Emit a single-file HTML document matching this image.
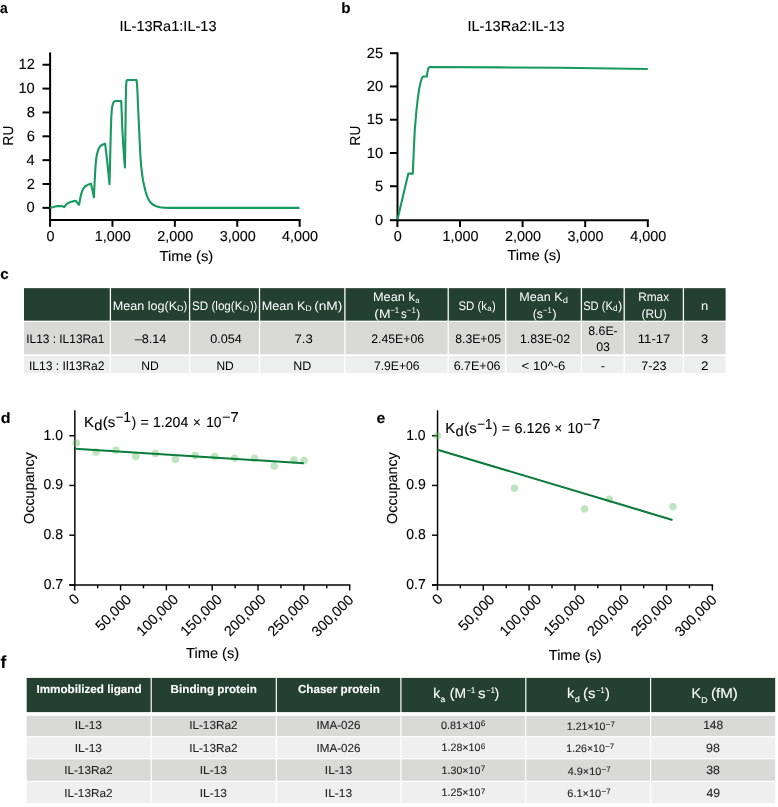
<!DOCTYPE html>
<html lang="en"><head><meta charset="utf-8"><title>Figure</title>
<style>
html,body{margin:0;padding:0;background:#fff}
svg{display:block}
text{stroke-width:.12px;font-family:"Liberation Sans",Arial,Helvetica,sans-serif;white-space:pre;text-rendering:geometricPrecision}
svg{will-change:transform}
.tc text{stroke-width:0}
</style></head><body>
<svg width="778" height="807" viewBox="0 0 778 807">
<rect width="778" height="807" fill="#fff"/>
<text x="-0.08" y="13.1" font-size="15" font-weight="700" fill="#000" textLength="7.69" lengthAdjust="spacingAndGlyphs" stroke="#000">a</text>
<text x="341.31" y="12.9" font-size="15" font-weight="700" fill="#000" textLength="9.31" lengthAdjust="spacingAndGlyphs" stroke="#000">b</text>
<text x="0.23" y="279.3" font-size="15" font-weight="700" fill="#000" textLength="8.4" lengthAdjust="spacingAndGlyphs" stroke="#000">c</text>
<text x="0.66" y="422.9" font-size="15" font-weight="700" fill="#000" textLength="9.8" lengthAdjust="spacingAndGlyphs" stroke="#000">d</text>
<text x="376.4" y="422.9" font-size="15" font-weight="700" fill="#000" textLength="8.83" lengthAdjust="spacingAndGlyphs" stroke="#000">e</text>
<text x="0.6" y="667.8" font-size="17.5" font-weight="700" fill="#000" textLength="5.77" lengthAdjust="spacingAndGlyphs" stroke="#000">f</text>
<line x1="50.1" y1="52.4" x2="50.1" y2="220.9" stroke="#000" stroke-width="2" stroke-linecap="butt"/>
<line x1="49.1" y1="219.9" x2="300.6" y2="219.9" stroke="#000" stroke-width="2" stroke-linecap="butt"/>
<line x1="42.5" y1="207.85" x2="50.1" y2="207.85" stroke="#000" stroke-width="2" stroke-linecap="butt"/>
<text x="26.59" y="212.45" font-size="14.7" fill="#000" textLength="8.18" lengthAdjust="spacingAndGlyphs" stroke="#000">0</text>
<line x1="42.5" y1="184" x2="50.1" y2="184" stroke="#000" stroke-width="2" stroke-linecap="butt"/>
<text x="26.74" y="188.6" font-size="14.7" fill="#000" textLength="8.18" lengthAdjust="spacingAndGlyphs" stroke="#000">2</text>
<line x1="42.5" y1="160.15" x2="50.1" y2="160.15" stroke="#000" stroke-width="2" stroke-linecap="butt"/>
<text x="26.45" y="164.75" font-size="14.7" fill="#000" textLength="8.18" lengthAdjust="spacingAndGlyphs" stroke="#000">4</text>
<line x1="42.5" y1="136.3" x2="50.1" y2="136.3" stroke="#000" stroke-width="2" stroke-linecap="butt"/>
<text x="26.67" y="140.9" font-size="14.7" fill="#000" textLength="8.18" lengthAdjust="spacingAndGlyphs" stroke="#000">6</text>
<line x1="42.5" y1="112.45" x2="50.1" y2="112.45" stroke="#000" stroke-width="2" stroke-linecap="butt"/>
<text x="26.67" y="117.05" font-size="14.7" fill="#000" textLength="8.18" lengthAdjust="spacingAndGlyphs" stroke="#000">8</text>
<line x1="42.5" y1="88.6" x2="50.1" y2="88.6" stroke="#000" stroke-width="2" stroke-linecap="butt"/>
<text x="18.43" y="93.2" font-size="14.7" fill="#000" textLength="16.35" lengthAdjust="spacingAndGlyphs" stroke="#000">10</text>
<line x1="42.5" y1="64.75" x2="50.1" y2="64.75" stroke="#000" stroke-width="2" stroke-linecap="butt"/>
<text x="18.58" y="69.35" font-size="14.7" fill="#000" textLength="16.35" lengthAdjust="spacingAndGlyphs" stroke="#000">12</text>
<line x1="50.05" y1="219.9" x2="50.05" y2="226.8" stroke="#000" stroke-width="2" stroke-linecap="butt"/>
<text x="46.45" y="240.85" font-size="14.4" stroke="#000">0</text>
<line x1="112.45" y1="219.9" x2="112.45" y2="226.8" stroke="#000" stroke-width="2" stroke-linecap="butt"/>
<text x="94.83" y="240.85" font-size="14.4" stroke="#000">1,000</text>
<line x1="174.85" y1="219.9" x2="174.85" y2="226.8" stroke="#000" stroke-width="2" stroke-linecap="butt"/>
<text x="157.23" y="240.85" font-size="14.4" stroke="#000">2,000</text>
<line x1="237.25" y1="219.9" x2="237.25" y2="226.8" stroke="#000" stroke-width="2" stroke-linecap="butt"/>
<text x="219.63" y="240.85" font-size="14.4" stroke="#000">3,000</text>
<line x1="299.65" y1="219.9" x2="299.65" y2="226.8" stroke="#000" stroke-width="2" stroke-linecap="butt"/>
<text x="282.03" y="240.85" font-size="14.4" stroke="#000">4,000</text>
<text x="119.45" y="31.3" font-size="14.4" fill="#000" textLength="97.08" lengthAdjust="spacingAndGlyphs" stroke="#000">IL-13Ra1:IL-13</text>
<text transform="translate(13.4 145.4) rotate(-90)" font-size="14.4" textLength="19.6" lengthAdjust="spacingAndGlyphs" stroke="#000">RU</text>
<text x="159.47" y="260.7" font-size="14.4" fill="#000" textLength="53.85" lengthAdjust="spacingAndGlyphs" stroke="#000">Time (s)</text>
<polyline fill="none" stroke="#17995f" stroke-width="2.1" stroke-linejoin="round" stroke-linecap="butt" points="50.1,207.85 52.5,207.2 55.3,206.5 58,206.1 60.4,205.95 62.3,206.3 64.2,207.1 65.2,205.8 66.5,204.2 68.2,203 70.2,202.1 72.8,201.4 75.6,200.8 77.3,202.8 79.05,204.8 79.7,201.5 80.4,197.5 81.3,193.8 82.3,190.7 83.6,188.3 85,186.5 87.8,184.8 91,183.7 92.5,190.5 93.9,197.2 94.4,187 94.9,177 95.5,166.5 96.2,158.6 97.1,153.6 98.1,150.2 99.3,147.6 100.8,145.7 102.8,144.5 105.1,143.7 106.3,153.5 107.4,163.2 108.5,174 109.45,184.2 109.9,170 110.3,152 110.8,132 111.3,117 111.9,108.8 112.7,104.4 113.6,102.1 114.8,101.2 116,101.05 121.2,101.05 121.7,112 122.3,128 123.1,143 124,156 124.9,167.4 125.2,150 125.5,125 125.8,100 126.1,86 126.5,81.2 127.1,80 136.5,80 137,84 137.5,93 138.2,109.7 139,127 139.6,140 140.4,156 141.2,166.5 142.2,174.8 143,180.2 144.4,186.8 145.6,191.6 146.9,195.8 148.5,199.4 150.2,202 152.1,204 154.5,205.5 157,206.5 160,207.2 164,207.6 170,207.85 299.6,207.85"/>
<line x1="397.5" y1="52.3" x2="397.5" y2="221.2" stroke="#000" stroke-width="2" stroke-linecap="butt"/>
<line x1="396.5" y1="220.2" x2="648.8" y2="220.2" stroke="#000" stroke-width="2" stroke-linecap="butt"/>
<line x1="389.9" y1="220.2" x2="397.5" y2="220.2" stroke="#000" stroke-width="2" stroke-linecap="butt"/>
<text x="374.99" y="224.8" font-size="14.7" fill="#000" textLength="8.18" lengthAdjust="spacingAndGlyphs" stroke="#000">0</text>
<line x1="389.9" y1="186.24" x2="397.5" y2="186.24" stroke="#000" stroke-width="2" stroke-linecap="butt"/>
<text x="375.03" y="190.84" font-size="14.7" fill="#000" textLength="8.18" lengthAdjust="spacingAndGlyphs" stroke="#000">5</text>
<line x1="389.9" y1="152.98" x2="397.5" y2="152.98" stroke="#000" stroke-width="2" stroke-linecap="butt"/>
<text x="366.83" y="157.58" font-size="14.7" fill="#000" textLength="16.35" lengthAdjust="spacingAndGlyphs" stroke="#000">10</text>
<line x1="389.9" y1="119.72" x2="397.5" y2="119.72" stroke="#000" stroke-width="2" stroke-linecap="butt"/>
<text x="366.87" y="124.32" font-size="14.7" fill="#000" textLength="16.35" lengthAdjust="spacingAndGlyphs" stroke="#000">15</text>
<line x1="389.9" y1="86.46" x2="397.5" y2="86.46" stroke="#000" stroke-width="2" stroke-linecap="butt"/>
<text x="366.83" y="91.06" font-size="14.7" fill="#000" textLength="16.35" lengthAdjust="spacingAndGlyphs" stroke="#000">20</text>
<line x1="389.9" y1="53.2" x2="397.5" y2="53.2" stroke="#000" stroke-width="2" stroke-linecap="butt"/>
<text x="366.87" y="57.8" font-size="14.7" fill="#000" textLength="16.35" lengthAdjust="spacingAndGlyphs" stroke="#000">25</text>
<line x1="397.4" y1="220.2" x2="397.4" y2="227.1" stroke="#000" stroke-width="2" stroke-linecap="butt"/>
<text x="393.8" y="240.85" font-size="14.4" stroke="#000">0</text>
<line x1="460" y1="220.2" x2="460" y2="227.1" stroke="#000" stroke-width="2" stroke-linecap="butt"/>
<text x="442.38" y="240.85" font-size="14.4" stroke="#000">1,000</text>
<line x1="522.6" y1="220.2" x2="522.6" y2="227.1" stroke="#000" stroke-width="2" stroke-linecap="butt"/>
<text x="504.98" y="240.85" font-size="14.4" stroke="#000">2,000</text>
<line x1="585.2" y1="220.2" x2="585.2" y2="227.1" stroke="#000" stroke-width="2" stroke-linecap="butt"/>
<text x="567.58" y="240.85" font-size="14.4" stroke="#000">3,000</text>
<line x1="647.8" y1="220.2" x2="647.8" y2="227.1" stroke="#000" stroke-width="2" stroke-linecap="butt"/>
<text x="630.18" y="240.85" font-size="14.4" stroke="#000">4,000</text>
<text x="467.45" y="31.3" font-size="14.4" fill="#000" textLength="97.18" lengthAdjust="spacingAndGlyphs" stroke="#000">IL-13Ra2:IL-13</text>
<text transform="translate(360.3 145.4) rotate(-90)" font-size="14.4" textLength="19.6" lengthAdjust="spacingAndGlyphs" stroke="#000">RU</text>
<text x="507.27" y="260.4" font-size="14.4" fill="#000" textLength="53.74" lengthAdjust="spacingAndGlyphs" stroke="#000">Time (s)</text>
<polyline fill="none" stroke="#17995f" stroke-width="2.1" stroke-linejoin="round" points="397.5,219.5 408.3,173.6 412.8,173.6 413.6,155 414.7,131 416.3,112 417.8,98.5 419.3,88.2 420.7,82 421.9,78.3 423,76.5 426.8,76.5 427.4,72.5 428.2,68.8 429.1,67.3 430.2,67 500,67.4 560,67.8 647.8,69"/>
<g class="tc" transform="translate(0.3 0.35)">
<rect x="23.7" y="287.8" width="85.75" height="32.5" fill="#234030"/>
<rect x="110.75" y="287.8" width="77.9" height="32.5" fill="#234030"/>
<rect x="189.95" y="287.8" width="68.6" height="32.5" fill="#234030"/>
<rect x="259.85" y="287.8" width="84.1" height="32.5" fill="#234030"/>
<rect x="345.25" y="287.8" width="102" height="32.5" fill="#234030"/>
<rect x="448.55" y="287.8" width="56.2" height="32.5" fill="#234030"/>
<rect x="506.05" y="287.8" width="74.4" height="32.5" fill="#234030"/>
<rect x="581.75" y="287.8" width="41.5" height="32.5" fill="#234030"/>
<rect x="624.55" y="287.8" width="57.9" height="32.5" fill="#234030"/>
<rect x="683.75" y="287.8" width="41.55" height="32.5" fill="#234030"/>
<rect x="23.7" y="321.6" width="85.75" height="32.3" fill="#d9d9d8"/>
<rect x="110.75" y="321.6" width="77.9" height="32.3" fill="#d9d9d8"/>
<rect x="189.95" y="321.6" width="68.6" height="32.3" fill="#d9d9d8"/>
<rect x="259.85" y="321.6" width="84.1" height="32.3" fill="#d9d9d8"/>
<rect x="345.25" y="321.6" width="102" height="32.3" fill="#d9d9d8"/>
<rect x="448.55" y="321.6" width="56.2" height="32.3" fill="#d9d9d8"/>
<rect x="506.05" y="321.6" width="74.4" height="32.3" fill="#d9d9d8"/>
<rect x="581.75" y="321.6" width="41.5" height="32.3" fill="#d9d9d8"/>
<rect x="624.55" y="321.6" width="57.9" height="32.3" fill="#d9d9d8"/>
<rect x="683.75" y="321.6" width="41.55" height="32.3" fill="#d9d9d8"/>
<rect x="23.7" y="355.6" width="85.75" height="17.2" fill="#edefee"/>
<rect x="110.75" y="355.6" width="77.9" height="17.2" fill="#edefee"/>
<rect x="189.95" y="355.6" width="68.6" height="17.2" fill="#edefee"/>
<rect x="259.85" y="355.6" width="84.1" height="17.2" fill="#edefee"/>
<rect x="345.25" y="355.6" width="102" height="17.2" fill="#edefee"/>
<rect x="448.55" y="355.6" width="56.2" height="17.2" fill="#edefee"/>
<rect x="506.05" y="355.6" width="74.4" height="17.2" fill="#edefee"/>
<rect x="581.75" y="355.6" width="41.5" height="17.2" fill="#edefee"/>
<rect x="624.55" y="355.6" width="57.9" height="17.2" fill="#edefee"/>
<rect x="683.75" y="355.6" width="41.55" height="17.2" fill="#edefee"/>
<text x="112.36" y="309.3" font-size="12.4" fill="#fff" textLength="64.38" lengthAdjust="spacingAndGlyphs" stroke="#fff">Mean log(K</text>
<text x="176.66" y="311" font-size="8" fill="#fff" textLength="6.47" lengthAdjust="spacingAndGlyphs" stroke="#fff">D</text>
<text x="183.24" y="309.3" font-size="12.4" fill="#fff" textLength="3.72" lengthAdjust="spacingAndGlyphs" stroke="#fff">)</text>
<text x="191.78" y="309.3" font-size="12.4" fill="#fff" textLength="50.36" lengthAdjust="spacingAndGlyphs" stroke="#fff">SD (log(K</text>
<text x="242.51" y="311" font-size="8" fill="#fff" textLength="6.47" lengthAdjust="spacingAndGlyphs" stroke="#fff">D</text>
<text x="249.58" y="309.3" font-size="12.4" fill="#fff" textLength="7.43" lengthAdjust="spacingAndGlyphs" stroke="#fff">))</text>
<text x="261.56" y="309.3" font-size="12.4" fill="#fff" textLength="43.48" lengthAdjust="spacingAndGlyphs" stroke="#fff">Mean K</text>
<text x="304.86" y="311" font-size="8" fill="#fff" textLength="6.47" lengthAdjust="spacingAndGlyphs" stroke="#fff">D</text>
<text x="313.84" y="309.3" font-size="12.4" fill="#fff" textLength="28.29" lengthAdjust="spacingAndGlyphs" stroke="#fff">(nM)</text>
<text x="372.65" y="300.9" font-size="12.4" fill="#fff" textLength="41.84" lengthAdjust="spacingAndGlyphs" stroke="#fff">Mean k</text>
<text x="414.98" y="302.6" font-size="8" fill="#fff" textLength="4.21" lengthAdjust="spacingAndGlyphs" stroke="#fff">a</text>
<text x="374.03" y="317.8" font-size="12.4" fill="#fff" textLength="16.19" lengthAdjust="spacingAndGlyphs" stroke="#fff">(M</text>
<text x="389.92" y="312.3" font-size="8.4" fill="#fff" textLength="9.06" lengthAdjust="spacingAndGlyphs" stroke="#fff">−1</text>
<text x="400.79" y="317.8" font-size="12.4" fill="#fff" textLength="5.71" lengthAdjust="spacingAndGlyphs" stroke="#fff">s</text>
<text x="406.52" y="312.3" font-size="8.4" fill="#fff" textLength="9.06" lengthAdjust="spacingAndGlyphs" stroke="#fff">−1</text>
<text x="416.01" y="317.8" font-size="12.4" fill="#fff" textLength="3.9" lengthAdjust="spacingAndGlyphs" stroke="#fff">)</text>
<text x="458.18" y="309.3" font-size="12.4" fill="#fff" textLength="28.62" lengthAdjust="spacingAndGlyphs" stroke="#fff">SD (k</text>
<text x="486.96" y="310.9" font-size="8" fill="#fff" textLength="4.43" lengthAdjust="spacingAndGlyphs" stroke="#fff">a</text>
<text x="491.64" y="309.3" font-size="12.4" fill="#fff" textLength="3.72" lengthAdjust="spacingAndGlyphs" stroke="#fff">)</text>
<text x="518.96" y="300.9" font-size="12.4" fill="#fff" textLength="43.28" lengthAdjust="spacingAndGlyphs" stroke="#fff">Mean K</text>
<text x="562.5" y="302.6" font-size="8.6" fill="#fff" textLength="5.19" lengthAdjust="spacingAndGlyphs" stroke="#fff">d</text>
<text x="532.33" y="317.8" font-size="12.4" fill="#fff" textLength="10.2" lengthAdjust="spacingAndGlyphs" stroke="#fff">(s</text>
<text x="542.74" y="312.6" font-size="8.4" fill="#fff" textLength="8.62" lengthAdjust="spacingAndGlyphs" stroke="#fff">−1</text>
<text x="551.9" y="317.8" font-size="12.4" fill="#fff" textLength="4.4" lengthAdjust="spacingAndGlyphs" stroke="#fff">)</text>
<text x="582.83" y="309.3" font-size="12.4" fill="#fff" textLength="29.76" lengthAdjust="spacingAndGlyphs" stroke="#fff">SD (K</text>
<text x="612.65" y="310.8" font-size="8.6" fill="#fff" textLength="4.57" lengthAdjust="spacingAndGlyphs" stroke="#fff">d</text>
<text x="617.6" y="309.3" font-size="12.4" fill="#fff" textLength="4.27" lengthAdjust="spacingAndGlyphs" stroke="#fff">)</text>
<text x="637.92" y="300.9" font-size="12.4" fill="#fff" textLength="30.88" lengthAdjust="spacingAndGlyphs" stroke="#fff">Rmax</text>
<text x="641.26" y="317.8" font-size="12.4" fill="#fff" textLength="25.06" lengthAdjust="spacingAndGlyphs" stroke="#fff">(RU)</text>
<text x="700.75" y="309.3" font-size="12.4" fill="#fff" textLength="7.29" lengthAdjust="spacingAndGlyphs" stroke="#fff">n</text>
<text x="25.9" y="343" font-size="12.4" fill="#000" textLength="78.18" lengthAdjust="spacingAndGlyphs" stroke="#000">IL13 : IL13Ra1</text>
<text x="28.58" y="369.4" font-size="12.4" fill="#000" textLength="75.52" lengthAdjust="spacingAndGlyphs" stroke="#000">IL13 : Il13Ra2</text>
<text x="134.4" y="343" font-size="12.4" fill="#000" textLength="31.65" lengthAdjust="spacingAndGlyphs" stroke="#000">–8.14</text>
<text x="141" y="369.4" font-size="12.4" fill="#000" textLength="17.57" lengthAdjust="spacingAndGlyphs" stroke="#000">ND</text>
<text x="209.83" y="343" font-size="12.4" fill="#000" textLength="31.62" lengthAdjust="spacingAndGlyphs" stroke="#000">0.054</text>
<text x="216.11" y="369.4" font-size="12.4" fill="#000" textLength="17.35" lengthAdjust="spacingAndGlyphs" stroke="#000">ND</text>
<text x="294.14" y="343" font-size="12.4" fill="#000" textLength="18.32" lengthAdjust="spacingAndGlyphs" stroke="#000">7.3</text>
<text x="292.97" y="369.4" font-size="12.4" fill="#000" textLength="18.01" lengthAdjust="spacingAndGlyphs" stroke="#000">ND</text>
<text x="370.89" y="343" font-size="12.4" fill="#000" textLength="52.96" lengthAdjust="spacingAndGlyphs" stroke="#000">2.45E+06</text>
<text x="373.59" y="369.4" font-size="12.4" fill="#000" textLength="45.74" lengthAdjust="spacingAndGlyphs" stroke="#000">7.9E+06</text>
<text x="454.88" y="343" font-size="12.4" fill="#000" textLength="45.92" lengthAdjust="spacingAndGlyphs" stroke="#000">8.3E+05</text>
<text x="453.38" y="369.4" font-size="12.4" fill="#000" textLength="46.87" lengthAdjust="spacingAndGlyphs" stroke="#000">6.7E+06</text>
<text x="519.67" y="343" font-size="12.4" fill="#000" textLength="50.13" lengthAdjust="spacingAndGlyphs" stroke="#000">1.83E-02</text>
<text x="521.28" y="369.4" font-size="12.4" fill="#000" textLength="43.78" lengthAdjust="spacingAndGlyphs" stroke="#000">&lt; 10^-6</text>
<text x="587.98" y="334.5" font-size="12.4" fill="#000" textLength="29.45" lengthAdjust="spacingAndGlyphs" stroke="#000">8.6E-</text>
<text x="595.83" y="351" font-size="12.4" fill="#000" textLength="13.82" lengthAdjust="spacingAndGlyphs" stroke="#000">03</text>
<text x="600.33" y="369.4" font-size="12.4" fill="#000" textLength="4.21" lengthAdjust="spacingAndGlyphs" stroke="#000">-</text>
<text x="637.52" y="343" font-size="12.4" fill="#000" textLength="32.52" lengthAdjust="spacingAndGlyphs" stroke="#000">11-17</text>
<text x="640.97" y="369.4" font-size="12.4" fill="#000" textLength="25.29" lengthAdjust="spacingAndGlyphs" stroke="#000">7-23</text>
<text x="700.82" y="343" font-size="12.4" fill="#000" textLength="7.14" lengthAdjust="spacingAndGlyphs" stroke="#000">3</text>
<text x="700.63" y="369.4" font-size="12.4" fill="#000" textLength="7.42" lengthAdjust="spacingAndGlyphs" stroke="#000">2</text>
</g>
<line x1="74.85" y1="410.3" x2="74.85" y2="585.73" stroke="#000" stroke-width="1.45" stroke-linecap="butt"/>
<line x1="69.3" y1="585" x2="350.4" y2="585" stroke="#000" stroke-width="1.45" stroke-linecap="butt"/>
<line x1="69.3" y1="435.7" x2="74.85" y2="435.7" stroke="#000" stroke-width="1.45" stroke-linecap="butt"/>
<text x="43.51" y="439.5" font-size="14.4" fill="#000" textLength="19.42" lengthAdjust="spacingAndGlyphs" stroke="#000">1.0</text>
<line x1="69.3" y1="485.45" x2="74.85" y2="485.45" stroke="#000" stroke-width="1.45" stroke-linecap="butt"/>
<text x="43.61" y="489.25" font-size="14.4" fill="#000" textLength="19.42" lengthAdjust="spacingAndGlyphs" stroke="#000">0.9</text>
<line x1="69.3" y1="535.2" x2="74.85" y2="535.2" stroke="#000" stroke-width="1.45" stroke-linecap="butt"/>
<text x="43.58" y="539" font-size="14.4" fill="#000" textLength="19.42" lengthAdjust="spacingAndGlyphs" stroke="#000">0.8</text>
<line x1="69.3" y1="585" x2="74.85" y2="585" stroke="#000" stroke-width="1.45" stroke-linecap="butt"/>
<text x="43.65" y="588.8" font-size="14.4" fill="#000" textLength="19.42" lengthAdjust="spacingAndGlyphs" stroke="#000">0.7</text>
<line x1="74.75" y1="585" x2="74.75" y2="590.4" stroke="#000" stroke-width="1.45" stroke-linecap="butt"/>
<line x1="97.66" y1="585" x2="97.66" y2="588.3" stroke="#000" stroke-width="1.45" stroke-linecap="butt"/>
<line x1="120.57" y1="585" x2="120.57" y2="590.4" stroke="#000" stroke-width="1.45" stroke-linecap="butt"/>
<line x1="143.48" y1="585" x2="143.48" y2="588.3" stroke="#000" stroke-width="1.45" stroke-linecap="butt"/>
<line x1="166.39" y1="585" x2="166.39" y2="590.4" stroke="#000" stroke-width="1.45" stroke-linecap="butt"/>
<line x1="189.3" y1="585" x2="189.3" y2="588.3" stroke="#000" stroke-width="1.45" stroke-linecap="butt"/>
<line x1="212.21" y1="585" x2="212.21" y2="590.4" stroke="#000" stroke-width="1.45" stroke-linecap="butt"/>
<line x1="235.12" y1="585" x2="235.12" y2="588.3" stroke="#000" stroke-width="1.45" stroke-linecap="butt"/>
<line x1="258.03" y1="585" x2="258.03" y2="590.4" stroke="#000" stroke-width="1.45" stroke-linecap="butt"/>
<line x1="280.94" y1="585" x2="280.94" y2="588.3" stroke="#000" stroke-width="1.45" stroke-linecap="butt"/>
<line x1="303.85" y1="585" x2="303.85" y2="590.4" stroke="#000" stroke-width="1.45" stroke-linecap="butt"/>
<line x1="326.76" y1="585" x2="326.76" y2="588.3" stroke="#000" stroke-width="1.45" stroke-linecap="butt"/>
<line x1="349.67" y1="585" x2="349.67" y2="590.4" stroke="#000" stroke-width="1.45" stroke-linecap="butt"/>
<text transform="translate(80.38 599.92) rotate(-45)" text-anchor="end" font-size="14.4" stroke="#000">0</text>
<text transform="translate(132.28 600.52) rotate(-45)" text-anchor="end" font-size="14.4" stroke="#000">50,000</text>
<text transform="translate(179.08 600.32) rotate(-45)" text-anchor="end" font-size="14.4" stroke="#000">100,000</text>
<text transform="translate(222.98 600.32) rotate(-45)" text-anchor="end" font-size="14.4" stroke="#000">150,000</text>
<text transform="translate(266.68 600.32) rotate(-45)" text-anchor="end" font-size="14.4" stroke="#000">200,000</text>
<text transform="translate(310.38 600.32) rotate(-45)" text-anchor="end" font-size="14.4" stroke="#000">250,000</text>
<text transform="translate(354.38 600.72) rotate(-45)" text-anchor="end" font-size="14.4" stroke="#000">300,000</text>
<text transform="translate(34.2 523.9) rotate(-90)" font-size="14.4" textLength="71.6" lengthAdjust="spacingAndGlyphs" stroke="#000">Occupancy</text>
<text x="186.07" y="657.5" font-size="14.4" fill="#000" textLength="53.13" lengthAdjust="spacingAndGlyphs" stroke="#000">Time (s)</text>
<circle cx="76.3" cy="443" r="3.8" fill="#62c062" fill-opacity="0.41"/>
<circle cx="96.1" cy="452.1" r="3.8" fill="#62c062" fill-opacity="0.41"/>
<circle cx="115.9" cy="450.3" r="3.8" fill="#62c062" fill-opacity="0.41"/>
<circle cx="135.7" cy="456.5" r="3.8" fill="#62c062" fill-opacity="0.41"/>
<circle cx="155.5" cy="453.4" r="3.8" fill="#62c062" fill-opacity="0.41"/>
<circle cx="175.3" cy="459.3" r="3.8" fill="#62c062" fill-opacity="0.41"/>
<circle cx="195.1" cy="455.6" r="3.8" fill="#62c062" fill-opacity="0.41"/>
<circle cx="214.8" cy="456.6" r="3.8" fill="#62c062" fill-opacity="0.41"/>
<circle cx="234.6" cy="458.3" r="3.8" fill="#62c062" fill-opacity="0.41"/>
<circle cx="254.4" cy="458.4" r="3.8" fill="#62c062" fill-opacity="0.41"/>
<circle cx="274.2" cy="466" r="3.8" fill="#62c062" fill-opacity="0.41"/>
<circle cx="294" cy="460.1" r="3.8" fill="#62c062" fill-opacity="0.41"/>
<circle cx="304.1" cy="460.6" r="3.8" fill="#62c062" fill-opacity="0.41"/>
<line x1="75" y1="448.8" x2="303.8" y2="463.2" stroke="#0b7b3a" stroke-width="2.1" stroke-linecap="butt"/>
<text x="83.98" y="426.8" font-size="14.4" fill="#000" textLength="9.9" lengthAdjust="spacingAndGlyphs" stroke="#000">K</text>
<text x="94.18" y="429.6" font-size="14.4" fill="#000" textLength="8.16" lengthAdjust="spacingAndGlyphs" stroke="#000">d</text>
<text x="102.76" y="426.8" font-size="14.4" fill="#000" textLength="12.47" lengthAdjust="spacingAndGlyphs" stroke="#000">(s</text>
<text x="115.77" y="422.4" font-size="14.4" fill="#000" textLength="15.17" lengthAdjust="spacingAndGlyphs" stroke="#000">−1</text>
<text x="131.7" y="426.8" font-size="14.4" fill="#000" textLength="4.4" lengthAdjust="spacingAndGlyphs" stroke="#000">)</text>
<text x="140.43" y="426.8" font-size="14.4" fill="#000" textLength="8.27" lengthAdjust="spacingAndGlyphs" stroke="#000">=</text>
<text x="153.04" y="426.8" font-size="14.4" fill="#000" textLength="35.24" lengthAdjust="spacingAndGlyphs" stroke="#000">1.204</text>
<text x="193.07" y="426.8" font-size="14.4" fill="#000" textLength="7.74" lengthAdjust="spacingAndGlyphs" stroke="#000">×</text>
<text x="206.16" y="426.8" font-size="14.4" fill="#000" textLength="15.39" lengthAdjust="spacingAndGlyphs" stroke="#000">10</text>
<text x="221.9" y="422.4" font-size="14.4" fill="#000" textLength="16.8" lengthAdjust="spacingAndGlyphs" stroke="#000">−7</text>
<line x1="437.55" y1="410.3" x2="437.55" y2="585.73" stroke="#000" stroke-width="1.45" stroke-linecap="butt"/>
<line x1="432" y1="585" x2="713.1" y2="585" stroke="#000" stroke-width="1.45" stroke-linecap="butt"/>
<line x1="432" y1="435.7" x2="437.55" y2="435.7" stroke="#000" stroke-width="1.45" stroke-linecap="butt"/>
<text x="406.21" y="439.5" font-size="14.4" fill="#000" textLength="19.42" lengthAdjust="spacingAndGlyphs" stroke="#000">1.0</text>
<line x1="432" y1="485.45" x2="437.55" y2="485.45" stroke="#000" stroke-width="1.45" stroke-linecap="butt"/>
<text x="406.31" y="489.25" font-size="14.4" fill="#000" textLength="19.42" lengthAdjust="spacingAndGlyphs" stroke="#000">0.9</text>
<line x1="432" y1="535.2" x2="437.55" y2="535.2" stroke="#000" stroke-width="1.45" stroke-linecap="butt"/>
<text x="406.28" y="539" font-size="14.4" fill="#000" textLength="19.42" lengthAdjust="spacingAndGlyphs" stroke="#000">0.8</text>
<line x1="432" y1="585" x2="437.55" y2="585" stroke="#000" stroke-width="1.45" stroke-linecap="butt"/>
<text x="406.35" y="588.8" font-size="14.4" fill="#000" textLength="19.42" lengthAdjust="spacingAndGlyphs" stroke="#000">0.7</text>
<line x1="437.45" y1="585" x2="437.45" y2="590.4" stroke="#000" stroke-width="1.45" stroke-linecap="butt"/>
<line x1="460.36" y1="585" x2="460.36" y2="588.3" stroke="#000" stroke-width="1.45" stroke-linecap="butt"/>
<line x1="483.27" y1="585" x2="483.27" y2="590.4" stroke="#000" stroke-width="1.45" stroke-linecap="butt"/>
<line x1="506.18" y1="585" x2="506.18" y2="588.3" stroke="#000" stroke-width="1.45" stroke-linecap="butt"/>
<line x1="529.09" y1="585" x2="529.09" y2="590.4" stroke="#000" stroke-width="1.45" stroke-linecap="butt"/>
<line x1="552" y1="585" x2="552" y2="588.3" stroke="#000" stroke-width="1.45" stroke-linecap="butt"/>
<line x1="574.91" y1="585" x2="574.91" y2="590.4" stroke="#000" stroke-width="1.45" stroke-linecap="butt"/>
<line x1="597.82" y1="585" x2="597.82" y2="588.3" stroke="#000" stroke-width="1.45" stroke-linecap="butt"/>
<line x1="620.73" y1="585" x2="620.73" y2="590.4" stroke="#000" stroke-width="1.45" stroke-linecap="butt"/>
<line x1="643.64" y1="585" x2="643.64" y2="588.3" stroke="#000" stroke-width="1.45" stroke-linecap="butt"/>
<line x1="666.55" y1="585" x2="666.55" y2="590.4" stroke="#000" stroke-width="1.45" stroke-linecap="butt"/>
<line x1="689.46" y1="585" x2="689.46" y2="588.3" stroke="#000" stroke-width="1.45" stroke-linecap="butt"/>
<line x1="712.37" y1="585" x2="712.37" y2="590.4" stroke="#000" stroke-width="1.45" stroke-linecap="butt"/>
<text transform="translate(443.58 599.92) rotate(-45)" text-anchor="end" font-size="14.4" stroke="#000">0</text>
<text transform="translate(495.48 600.52) rotate(-45)" text-anchor="end" font-size="14.4" stroke="#000">50,000</text>
<text transform="translate(542.28 600.32) rotate(-45)" text-anchor="end" font-size="14.4" stroke="#000">100,000</text>
<text transform="translate(586.18 600.32) rotate(-45)" text-anchor="end" font-size="14.4" stroke="#000">150,000</text>
<text transform="translate(629.88 600.32) rotate(-45)" text-anchor="end" font-size="14.4" stroke="#000">200,000</text>
<text transform="translate(673.58 600.32) rotate(-45)" text-anchor="end" font-size="14.4" stroke="#000">250,000</text>
<text transform="translate(717.58 600.72) rotate(-45)" text-anchor="end" font-size="14.4" stroke="#000">300,000</text>
<text transform="translate(396.9 523.9) rotate(-90)" font-size="14.4" textLength="71.6" lengthAdjust="spacingAndGlyphs" stroke="#000">Occupancy</text>
<text x="548.77" y="660.3" font-size="14.4" fill="#000" textLength="52.92" lengthAdjust="spacingAndGlyphs" stroke="#000">Time (s)</text>
<circle cx="437.5" cy="435.7" r="3.7" fill="#62c062" fill-opacity="0.41"/>
<circle cx="514.4" cy="488.3" r="3.7" fill="#62c062" fill-opacity="0.41"/>
<circle cx="584.6" cy="508.9" r="3.7" fill="#62c062" fill-opacity="0.41"/>
<circle cx="609.5" cy="499.1" r="3.7" fill="#62c062" fill-opacity="0.41"/>
<circle cx="673" cy="506.8" r="3.7" fill="#62c062" fill-opacity="0.41"/>
<line x1="437.5" y1="449.7" x2="672.5" y2="519.9" stroke="#0b7b3a" stroke-width="2.1" stroke-linecap="butt"/>
<text x="445.38" y="433.1" font-size="14.4" fill="#000" textLength="9.9" lengthAdjust="spacingAndGlyphs" stroke="#000">K</text>
<text x="455.58" y="435.9" font-size="14.4" fill="#000" textLength="8.16" lengthAdjust="spacingAndGlyphs" stroke="#000">d</text>
<text x="464.16" y="433.1" font-size="14.4" fill="#000" textLength="12.47" lengthAdjust="spacingAndGlyphs" stroke="#000">(s</text>
<text x="477.17" y="428.7" font-size="14.4" fill="#000" textLength="15.17" lengthAdjust="spacingAndGlyphs" stroke="#000">−1</text>
<text x="493.1" y="433.1" font-size="14.4" fill="#000" textLength="4.4" lengthAdjust="spacingAndGlyphs" stroke="#000">)</text>
<text x="501.83" y="433.1" font-size="14.4" fill="#000" textLength="8.27" lengthAdjust="spacingAndGlyphs" stroke="#000">=</text>
<text x="514.48" y="433.1" font-size="14.4" fill="#000" textLength="36.03" lengthAdjust="spacingAndGlyphs" stroke="#000">6.126</text>
<text x="554.47" y="433.1" font-size="14.4" fill="#000" textLength="7.74" lengthAdjust="spacingAndGlyphs" stroke="#000">×</text>
<text x="567.56" y="433.1" font-size="14.4" fill="#000" textLength="15.39" lengthAdjust="spacingAndGlyphs" stroke="#000">10</text>
<text x="583.3" y="428.7" font-size="14.4" fill="#000" textLength="16.8" lengthAdjust="spacingAndGlyphs" stroke="#000">−7</text>
<rect x="26.7" y="677.9" width="123.9" height="34.2" fill="#234030"/>
<rect x="151.8" y="677.9" width="123.9" height="34.2" fill="#234030"/>
<rect x="276.9" y="677.9" width="123.4" height="34.2" fill="#234030"/>
<rect x="401.5" y="677.9" width="123.7" height="34.2" fill="#234030"/>
<rect x="526.4" y="677.9" width="123.6" height="34.2" fill="#234030"/>
<rect x="651.2" y="677.9" width="124" height="34.2" fill="#234030"/>
<rect x="26.7" y="715.9" width="123.9" height="20.2" fill="#d9d9d8"/>
<rect x="151.8" y="715.9" width="123.9" height="20.2" fill="#d9d9d8"/>
<rect x="276.9" y="715.9" width="123.4" height="20.2" fill="#d9d9d8"/>
<rect x="401.5" y="715.9" width="123.7" height="20.2" fill="#d9d9d8"/>
<rect x="526.4" y="715.9" width="123.6" height="20.2" fill="#d9d9d8"/>
<rect x="651.2" y="715.9" width="124" height="20.2" fill="#d9d9d8"/>
<rect x="26.7" y="737.3" width="123.9" height="20.8" fill="#efefef"/>
<rect x="151.8" y="737.3" width="123.9" height="20.8" fill="#efefef"/>
<rect x="276.9" y="737.3" width="123.4" height="20.8" fill="#efefef"/>
<rect x="401.5" y="737.3" width="123.7" height="20.8" fill="#efefef"/>
<rect x="526.4" y="737.3" width="123.6" height="20.8" fill="#efefef"/>
<rect x="651.2" y="737.3" width="124" height="20.8" fill="#efefef"/>
<rect x="26.7" y="759.3" width="123.9" height="21.5" fill="#d9d9d8"/>
<rect x="151.8" y="759.3" width="123.9" height="21.5" fill="#d9d9d8"/>
<rect x="276.9" y="759.3" width="123.4" height="21.5" fill="#d9d9d8"/>
<rect x="401.5" y="759.3" width="123.7" height="21.5" fill="#d9d9d8"/>
<rect x="526.4" y="759.3" width="123.6" height="21.5" fill="#d9d9d8"/>
<rect x="651.2" y="759.3" width="124" height="21.5" fill="#d9d9d8"/>
<rect x="26.7" y="781.9" width="123.9" height="21.2" fill="#efefef"/>
<rect x="151.8" y="781.9" width="123.9" height="21.2" fill="#efefef"/>
<rect x="276.9" y="781.9" width="123.4" height="21.2" fill="#efefef"/>
<rect x="401.5" y="781.9" width="123.7" height="21.2" fill="#efefef"/>
<rect x="526.4" y="781.9" width="123.6" height="21.2" fill="#efefef"/>
<rect x="651.2" y="781.9" width="124" height="21.2" fill="#efefef"/>
<text x="36.41" y="692.6" font-size="11.6" font-weight="700" fill="#fff" textLength="105.16" lengthAdjust="spacingAndGlyphs" stroke="#fff">Immobilized ligand</text>
<text x="170.61" y="692.6" font-size="11.6" font-weight="700" fill="#fff" textLength="86.19" lengthAdjust="spacingAndGlyphs" stroke="#fff">Binding protein</text>
<text x="297.94" y="692.6" font-size="11.6" font-weight="700" fill="#fff" textLength="81.96" lengthAdjust="spacingAndGlyphs" stroke="#fff">Chaser protein</text>
<text x="433.36" y="698" font-size="14" fill="#fff" textLength="6.94" lengthAdjust="spacingAndGlyphs" stroke="#fff">k</text>
<text x="440.44" y="702.4" font-size="8.2" fill="#fff" textLength="4.75" lengthAdjust="spacingAndGlyphs" stroke="#fff">a</text>
<text x="449.83" y="698" font-size="14" fill="#fff" textLength="16.19" lengthAdjust="spacingAndGlyphs" stroke="#fff">(M</text>
<text x="466.69" y="693.4" font-size="8.2" fill="#fff" textLength="8.41" lengthAdjust="spacingAndGlyphs" stroke="#fff">−1</text>
<text x="478.09" y="698" font-size="14" fill="#fff" textLength="7.54" lengthAdjust="spacingAndGlyphs" stroke="#fff">s</text>
<text x="486.34" y="693.4" font-size="8.2" fill="#fff" textLength="8.41" lengthAdjust="spacingAndGlyphs" stroke="#fff">−1</text>
<text x="494.8" y="698" font-size="14" fill="#fff" textLength="4.4" lengthAdjust="spacingAndGlyphs" stroke="#fff">)</text>
<text x="567.02" y="698" font-size="14" fill="#fff" textLength="7.28" lengthAdjust="spacingAndGlyphs" stroke="#fff">k</text>
<text x="574.69" y="702.4" font-size="8.2" fill="#fff" textLength="5.11" lengthAdjust="spacingAndGlyphs" stroke="#fff">d</text>
<text x="583.06" y="698" font-size="14" fill="#fff" textLength="12.47" lengthAdjust="spacingAndGlyphs" stroke="#fff">(s</text>
<text x="596.24" y="693.4" font-size="8.2" fill="#fff" textLength="8.41" lengthAdjust="spacingAndGlyphs" stroke="#fff">−1</text>
<text x="605.3" y="698" font-size="14" fill="#fff" textLength="4.52" lengthAdjust="spacingAndGlyphs" stroke="#fff">)</text>
<text x="691.53" y="698" font-size="14" fill="#fff" textLength="9.44" lengthAdjust="spacingAndGlyphs" stroke="#fff">K</text>
<text x="701.18" y="702.6" font-size="8.2" fill="#fff" textLength="6.34" lengthAdjust="spacingAndGlyphs" stroke="#fff">D</text>
<text x="711.06" y="698" font-size="14" fill="#fff" textLength="26.84" lengthAdjust="spacingAndGlyphs" stroke="#fff">(fM)</text>
<text x="74.69" y="729.3" font-size="11.6" fill="#262626" textLength="27.24" lengthAdjust="spacingAndGlyphs" stroke="#262626">IL-13</text>
<text x="189.16" y="729.3" font-size="11.6" fill="#262626" textLength="48.36" lengthAdjust="spacingAndGlyphs" stroke="#262626">IL-13Ra2</text>
<text x="316.52" y="729.3" font-size="11.6" fill="#262626" textLength="43.99" lengthAdjust="spacingAndGlyphs" stroke="#262626">IMA-026</text>
<text x="74.69" y="751.7" font-size="11.6" fill="#262626" textLength="27.24" lengthAdjust="spacingAndGlyphs" stroke="#262626">IL-13</text>
<text x="189.16" y="751.7" font-size="11.6" fill="#262626" textLength="48.36" lengthAdjust="spacingAndGlyphs" stroke="#262626">IL-13Ra2</text>
<text x="316.52" y="751.7" font-size="11.6" fill="#262626" textLength="43.99" lengthAdjust="spacingAndGlyphs" stroke="#262626">IMA-026</text>
<text x="64.16" y="774.2" font-size="11.6" fill="#262626" textLength="48.36" lengthAdjust="spacingAndGlyphs" stroke="#262626">IL-13Ra2</text>
<text x="199.69" y="774.2" font-size="11.6" fill="#262626" textLength="27.24" lengthAdjust="spacingAndGlyphs" stroke="#262626">IL-13</text>
<text x="324.89" y="774.2" font-size="11.6" fill="#262626" textLength="27.24" lengthAdjust="spacingAndGlyphs" stroke="#262626">IL-13</text>
<text x="64.16" y="796.6" font-size="11.6" fill="#262626" textLength="48.36" lengthAdjust="spacingAndGlyphs" stroke="#262626">IL-13Ra2</text>
<text x="199.69" y="796.6" font-size="11.6" fill="#262626" textLength="27.24" lengthAdjust="spacingAndGlyphs" stroke="#262626">IL-13</text>
<text x="324.89" y="796.6" font-size="11.6" fill="#262626" textLength="27.24" lengthAdjust="spacingAndGlyphs" stroke="#262626">IL-13</text>
<text x="441.09" y="729" font-size="10.8" fill="#262626" textLength="39.41" lengthAdjust="spacingAndGlyphs" stroke="#262626">0.81×10</text>
<text x="480.89" y="726.4" font-size="8" fill="#262626" textLength="4.57" lengthAdjust="spacingAndGlyphs" stroke="#262626">6</text>
<text x="441.6" y="751.4" font-size="10.8" fill="#262626" textLength="38.9" lengthAdjust="spacingAndGlyphs" stroke="#262626">1.28×10</text>
<text x="480.89" y="748.8" font-size="8" fill="#262626" textLength="4.57" lengthAdjust="spacingAndGlyphs" stroke="#262626">6</text>
<text x="441.6" y="773.9" font-size="10.8" fill="#262626" textLength="38.9" lengthAdjust="spacingAndGlyphs" stroke="#262626">1.30×10</text>
<text x="480.88" y="771.3" font-size="8" fill="#262626" textLength="4.62" lengthAdjust="spacingAndGlyphs" stroke="#262626">7</text>
<text x="441.6" y="796.3" font-size="10.8" fill="#262626" textLength="38.9" lengthAdjust="spacingAndGlyphs" stroke="#262626">1.25×10</text>
<text x="480.88" y="793.7" font-size="8" fill="#262626" textLength="4.62" lengthAdjust="spacingAndGlyphs" stroke="#262626">7</text>
<text x="566.8" y="729.6" font-size="10.8" fill="#262626" textLength="38.7" lengthAdjust="spacingAndGlyphs" stroke="#262626">1.21×10</text>
<text x="605.82" y="727" font-size="8" fill="#262626" textLength="9.06" lengthAdjust="spacingAndGlyphs" stroke="#262626">−7</text>
<text x="566.31" y="752" font-size="10.8" fill="#262626" textLength="38.59" lengthAdjust="spacingAndGlyphs" stroke="#262626">1.26×10</text>
<text x="605.22" y="749.4" font-size="8" fill="#262626" textLength="9.06" lengthAdjust="spacingAndGlyphs" stroke="#262626">−7</text>
<text x="567.66" y="774.5" font-size="10.8" fill="#262626" textLength="33.57" lengthAdjust="spacingAndGlyphs" stroke="#262626">4.9×10</text>
<text x="601.52" y="771.9" font-size="8" fill="#262626" textLength="9.06" lengthAdjust="spacingAndGlyphs" stroke="#262626">−7</text>
<text x="567.35" y="796.9" font-size="10.8" fill="#262626" textLength="33.88" lengthAdjust="spacingAndGlyphs" stroke="#262626">6.1×10</text>
<text x="601.52" y="794.3" font-size="8" fill="#262626" textLength="9.06" lengthAdjust="spacingAndGlyphs" stroke="#262626">−7</text>
<text x="703.2" y="729.3" font-size="12" fill="#262626" textLength="20.02" lengthAdjust="spacingAndGlyphs" stroke="#262626">148</text>
<text x="706.11" y="751.7" font-size="12" fill="#262626" textLength="13.85" lengthAdjust="spacingAndGlyphs" stroke="#262626">98</text>
<text x="706.24" y="774.2" font-size="12" fill="#262626" textLength="13.72" lengthAdjust="spacingAndGlyphs" stroke="#262626">38</text>
<text x="706.43" y="796.6" font-size="12" fill="#262626" textLength="13.55" lengthAdjust="spacingAndGlyphs" stroke="#262626">49</text>
</svg>
</body></html>
